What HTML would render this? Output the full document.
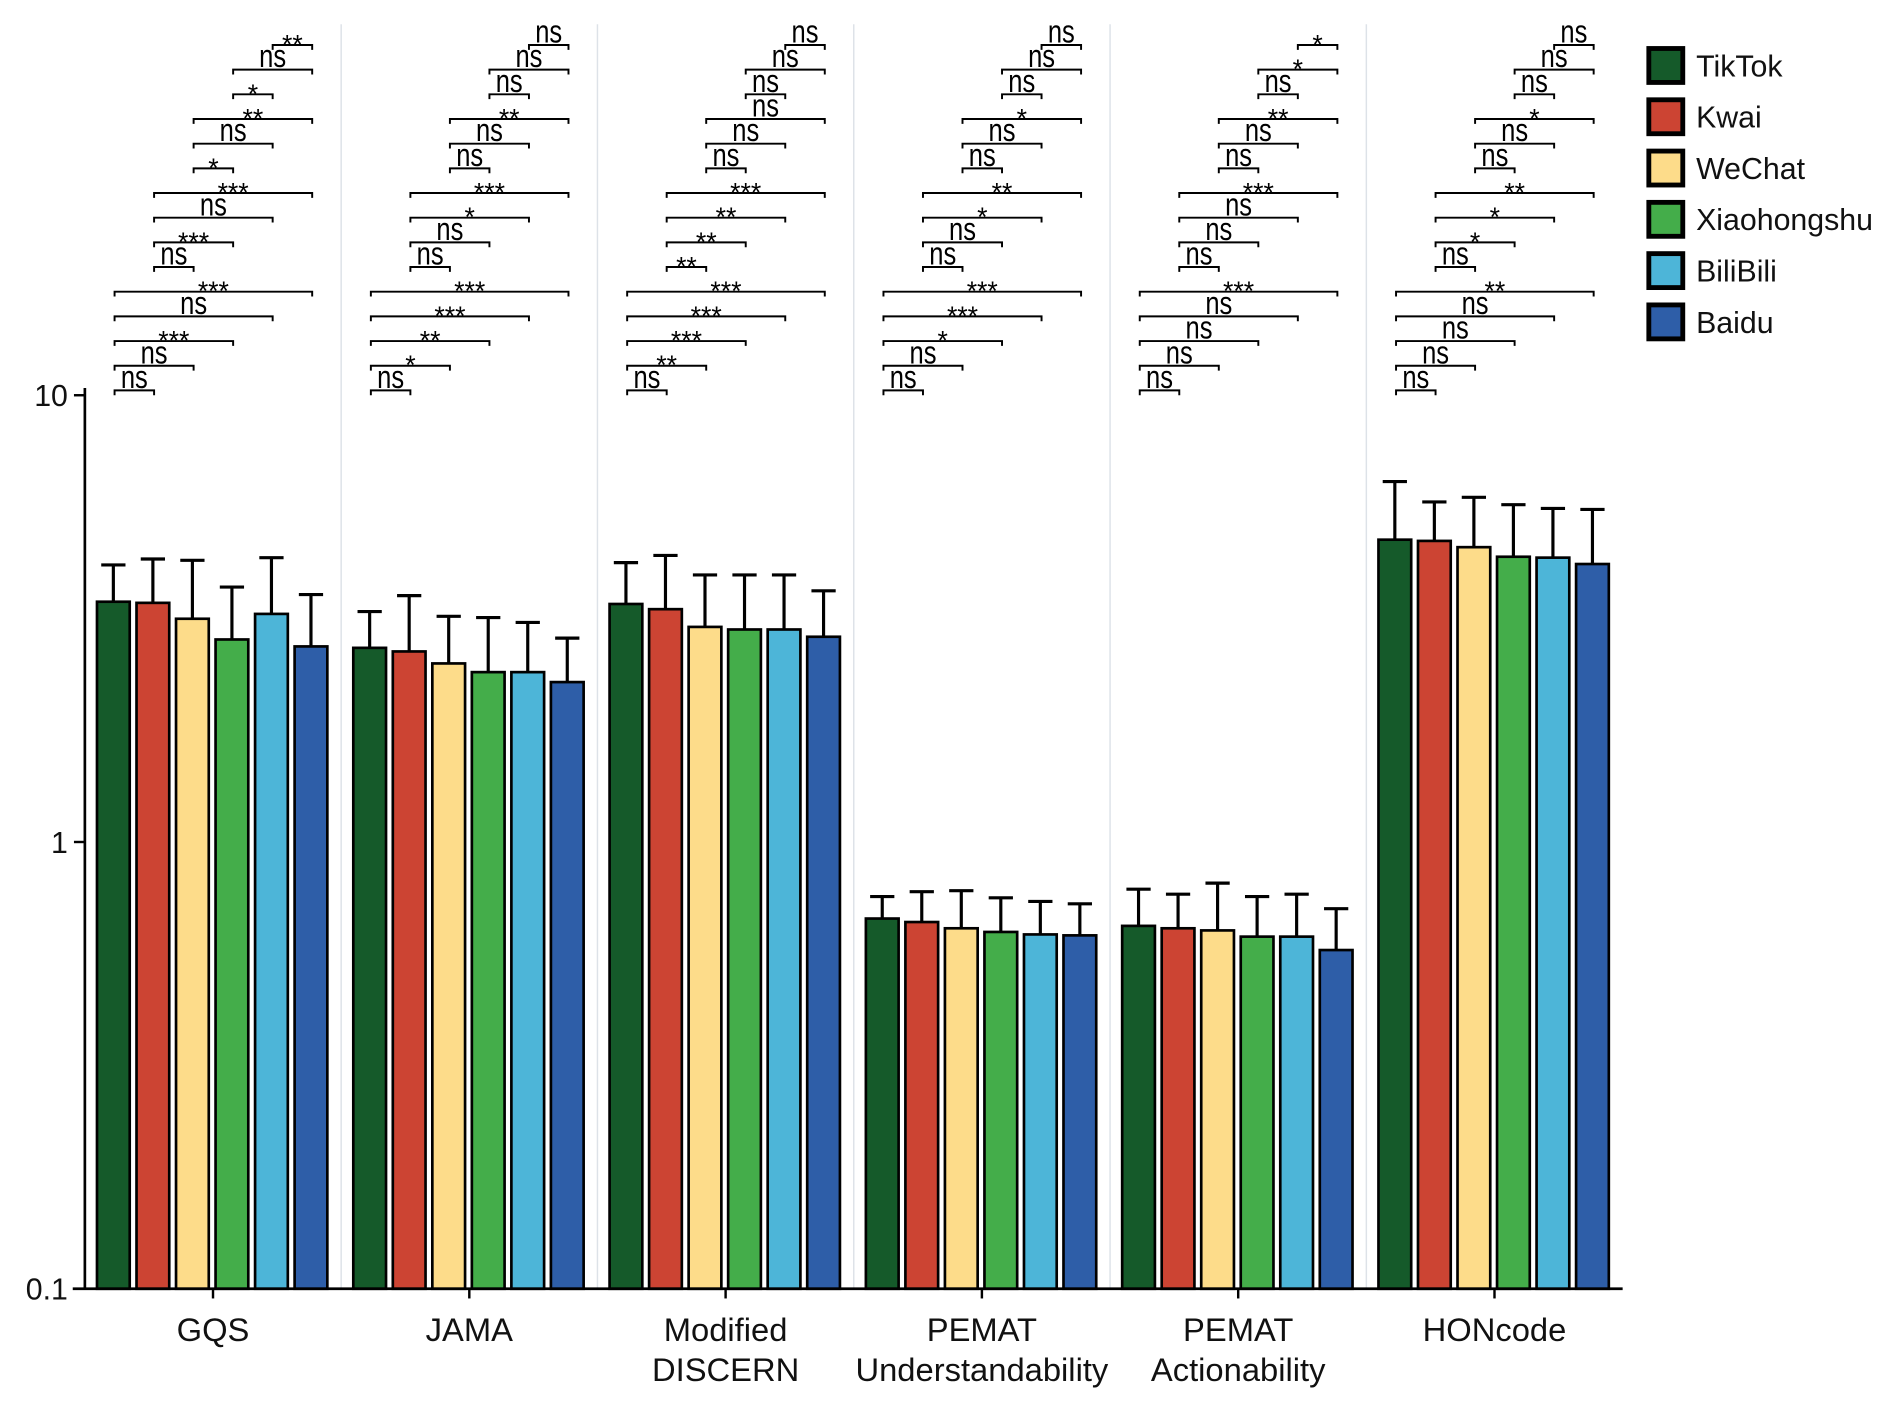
<!DOCTYPE html>
<html><head><meta charset="utf-8"><style>
html,body{margin:0;padding:0;background:#fff;}
svg{display:block;font-family:"Liberation Sans",Arial,sans-serif;}
</style></head><body>
<svg id="chart" width="1901" height="1402" viewBox="0 0 1568 1156.4" xmlns="http://www.w3.org/2000/svg"></svg>
<script>
const categories = [["GQS"],["JAMA"],["Modified","DISCERN"],["PEMAT","Understandability"],["PEMAT","Actionability"],["HONcode"]];
const seriesNames = ["TikTok","Kwai","WeChat","Xiaohongshu","BiliBili","Baidu"];
const seriesColors = ["#155a2a","#cc4433","#fddc8a","#44ad4a","#4db5d8","#2e5ea8"];
const meanValues = [
  [3.45,3.43,3.16,2.84,3.24,2.74],
  [2.72,2.67,2.51,2.40,2.40,2.28],
  [3.41,3.32,3.03,2.99,2.99,2.88],
  [0.674,0.662,0.641,0.629,0.621,0.618],
  [0.649,0.641,0.634,0.614,0.614,0.573],
  [4.75,4.72,4.57,4.35,4.33,4.19]
];
const upperValues = [
  [4.17,4.30,4.27,3.72,4.33,3.58],
  [3.28,3.56,3.20,3.18,3.10,2.86],
  [4.22,4.38,3.96,3.96,3.96,3.65],
  [0.755,0.774,0.778,0.750,0.736,0.727],
  [0.784,0.764,0.809,0.755,0.764,0.709],
  [6.41,5.77,5.91,5.69,5.58,5.55]
];
const tickValues = [0.1,1,10];
const tickLabels = ["0.1","1","10"];
const pairs = [[0,1],[0,2],[0,3],[0,4],[0,5],[1,2],[1,3],[1,4],[1,5],[2,3],[2,4],[2,5],[3,4],[3,5],[4,5]];
const sigLabels = [
  ["ns","ns","***","ns","***","ns","***","ns","***","*","ns","**","*","ns","**"],
  ["ns","*","**","***","***","ns","ns","*","***","ns","ns","**","ns","ns","ns"],
  ["ns","**","***","***","***","**","**","**","***","ns","ns","ns","ns","ns","ns"],
  ["ns","ns","*","***","***","ns","ns","*","**","ns","ns","*","ns","ns","ns"],
  ["ns","ns","ns","ns","***","ns","ns","ns","***","ns","ns","**","ns","*","*"],
  ["ns","ns","ns","ns","**","ns","*","*","**","ns","ns","*","ns","ns","ns"]
];

const svg = document.getElementById('chart');
const NS = 'http://www.w3.org/2000/svg';
const X0 = 70, PW = 211.4, BASE = 1063, DEC = 368.5;
function y(v){ return BASE - DEC*(Math.log10(v)+1); }
function panelX(k){ return X0 + PW*k; }
function barCenter(k,i){ return panelX(k) + 23.5 + 32.6*i; }
function el(tag, attrs, parent){
  const e = document.createElementNS(NS, tag);
  for (const a in attrs) e.setAttribute(a, attrs[a]);
  (parent||svg).appendChild(e);
  return e;
}

for (let k=1;k<6;k++){
  const s = el('line',{x1:panelX(k),x2:panelX(k),y1:20,y2:BASE,stroke:'#dde2e8','stroke-width':1.2});
  
  
}
for (let k=0;k<6;k++){
  for (let i=0;i<6;i++){
    const cx = barCenter(k,i), top = y(meanValues[k][i]), et = y(upperValues[k][i]);
    const eb = el('path',{d:`M${cx},${top} V${et} M${cx-10},${et} H${cx+10}`,stroke:'#000','stroke-width':2.6,fill:'none'});
    
    
    const r = el('rect',{x:cx-13.5,y:top,width:27,height:BASE-top,fill:seriesColors[i],stroke:'#000','stroke-width':2.2});
    
    
  }
  for (let p=0;p<15;p++){
    const ly = 322 - p*20.35;
    const a = barCenter(k,pairs[p][0])+1, b = barCenter(k,pairs[p][1])+1;
    const br = el('path',{d:`M${a},${ly+4} V${ly} H${b} V${ly+4}`,stroke:'#000','stroke-width':1.6,fill:'none'});
    
    
    const lab = sigLabels[k][p], isNs = lab==='ns';
    const mx = (a+b)/2;
    let t;
    if (isNs){
      t = el('text',{x:0,y:0,'text-anchor':'middle','font-size':27,fill:'#000',transform:`translate(${mx},${ly-2}) scale(0.78,1)`});
    } else {
      t = el('text',{x:mx,y:ly+7,'text-anchor':'middle','font-size':22,fill:'#000'});
    }
    t.textContent = lab;
    
    
  }
  const cxp = panelX(k)+PW/2;
  const xt = el('line',{x1:cxp,x2:cxp,y1:BASE,y2:BASE+8,stroke:'#000','stroke-width':2});
  
  
  categories[k].forEach((ln,j)=>{
    const t = el('text',{x:cxp,y:1106+j*33,'text-anchor':'middle','font-size':27,fill:'#111'});
    t.textContent = ln;
    
    
  });
}
const ya = el('line',{x1:X0,x2:X0,y1:320,y2:BASE+1,stroke:'#000','stroke-width':2.2});


const xa = el('line',{x1:X0-10,x2:X0+PW*6,y1:BASE,y2:BASE,stroke:'#000','stroke-width':2.2});


tickValues.forEach((v,i)=>{
  const tk = el('line',{x1:X0-9,x2:X0,y1:y(v),y2:y(v),stroke:'#000','stroke-width':2});
  
  
  const t = el('text',{x:X0-14,y:y(v)+9,'text-anchor':'end','font-size':25,fill:'#111'});
  t.textContent = tickLabels[i];
  
  
});
seriesNames.forEach((n,i)=>{
  const ly = 40 + i*42.3;
  const b = el('rect',{x:1360,y:ly,width:28,height:28,fill:seriesColors[i],stroke:'#000','stroke-width':4});
  
  
  const t = el('text',{x:1399,y:ly+23,'font-size':25,fill:'#111'});
  t.textContent = n;
  
  
});
</script>
</body></html>
